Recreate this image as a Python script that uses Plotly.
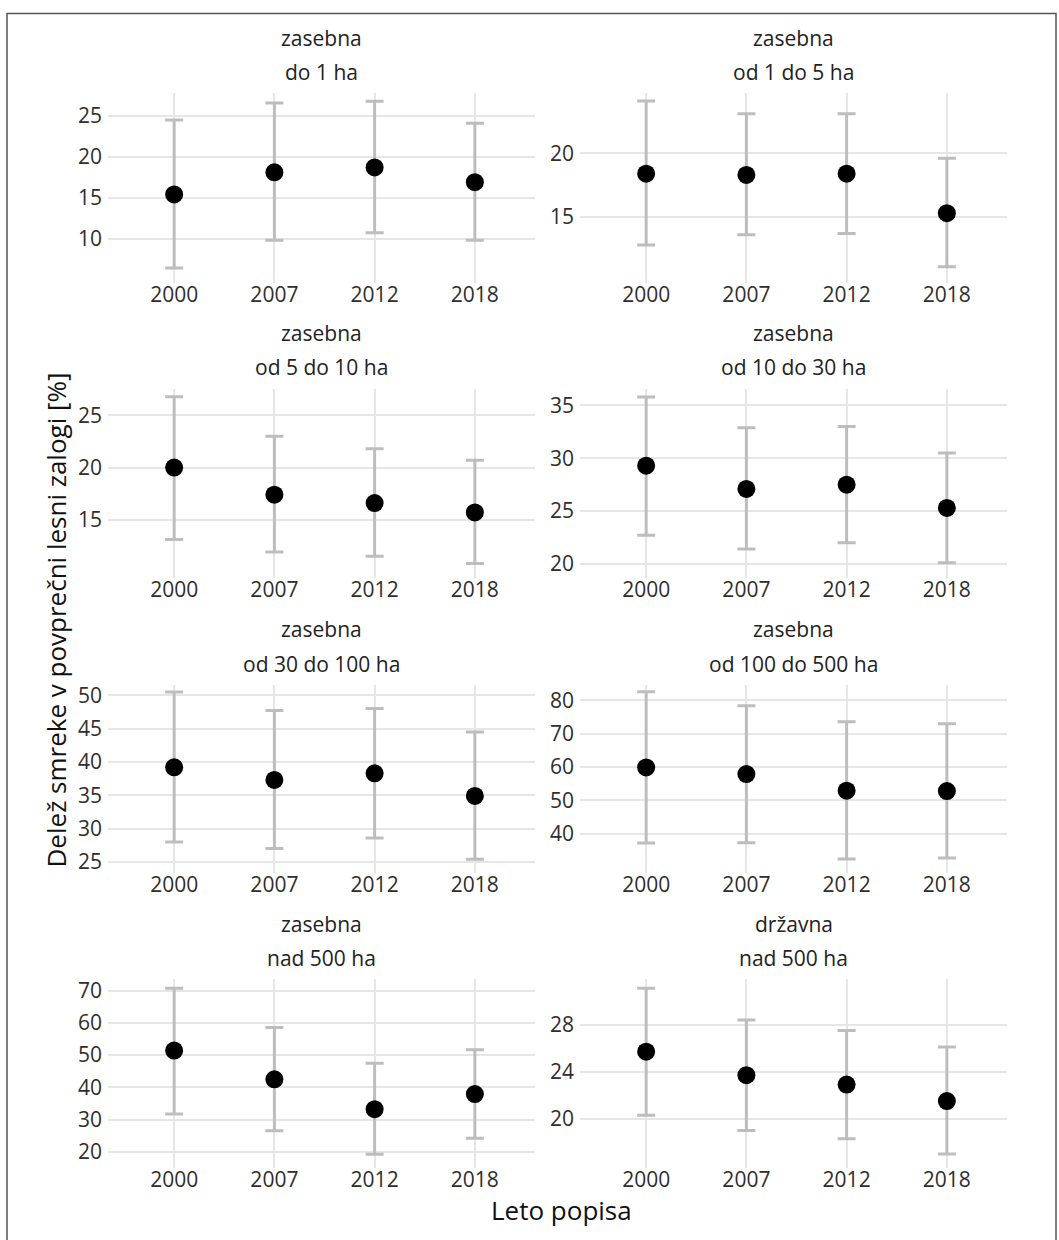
import plotly.graph_objects as go

# Census years (categorical x axis)
years = ["2000", "2007", "2012", "2018"]

# Panel strip labels: ownership / property size class
owners = ["zasebna", "zasebna", "zasebna", "zasebna",
          "zasebna", "zasebna", "zasebna", "državna"]
sizes = ["do 1 ha", "od 1 do 5 ha", "od 5 do 10 ha", "od 10 do 30 ha",
         "od 30 do 100 ha", "od 100 do 500 ha", "nad 500 ha", "nad 500 ha"]

# Spruce share in mean growing stock [%]: estimate, lower and upper bound
mean_do1 = [15.4, 18.1, 18.7, 16.9]
low_do1 = [6.4, 9.8, 10.7, 9.8]
up_do1 = [24.5, 26.6, 26.8, 24.1]

mean_1_5 = [18.4, 18.3, 18.4, 15.3]
low_1_5 = [12.8, 13.6, 13.7, 11.1]
up_1_5 = [24.1, 23.1, 23.1, 19.6]

mean_5_10 = [20.0, 17.4, 16.6, 15.7]
low_5_10 = [13.1, 11.9, 11.5, 10.8]
up_5_10 = [26.8, 23.0, 21.8, 20.7]

mean_10_30 = [29.3, 27.1, 27.5, 25.3]
low_10_30 = [22.7, 21.4, 22.0, 20.1]
up_10_30 = [35.8, 32.9, 33.0, 30.5]

mean_30_100 = [39.2, 37.3, 38.3, 34.9]
low_30_100 = [28.0, 27.0, 28.6, 25.4]
up_30_100 = [50.5, 47.7, 48.0, 44.5]

mean_100_500 = [59.9, 57.9, 52.9, 52.8]
low_100_500 = [37.2, 37.3, 32.4, 32.7]
up_100_500 = [82.6, 78.4, 73.6, 73.0]

mean_zas_500 = [51.4, 42.5, 33.2, 37.9]
low_zas_500 = [31.7, 26.5, 19.2, 24.2]
up_zas_500 = [70.8, 58.6, 47.5, 51.7]

mean_drz_500 = [25.7, 23.7, 22.9, 21.5]
low_drz_500 = [20.3, 19.0, 18.3, 17.0]
up_drz_500 = [31.1, 28.4, 27.5, 26.1]

# y-axis tick values per panel
ticks_do1 = [10, 15, 20, 25]
ticks_1_5 = [15, 20]
ticks_5_10 = [15, 20, 25]
ticks_10_30 = [20, 25, 30, 35]
ticks_30_100 = [25, 30, 35, 40, 45, 50]
ticks_100_500 = [40, 50, 60, 70, 80]
ticks_zas_500 = [20, 30, 40, 50, 60, 70]
ticks_drz_500 = [20, 24, 28]

means = [mean_do1, mean_1_5, mean_5_10, mean_10_30,
         mean_30_100, mean_100_500, mean_zas_500, mean_drz_500]
lows = [low_do1, low_1_5, low_5_10, low_10_30,
        low_30_100, low_100_500, low_zas_500, low_drz_500]
ups = [up_do1, up_1_5, up_5_10, up_10_30,
       up_30_100, up_100_500, up_zas_500, up_drz_500]
ticks = [ticks_do1, ticks_1_5, ticks_5_10, ticks_10_30,
         ticks_30_100, ticks_100_500, ticks_zas_500, ticks_drz_500]

# y ranges of each facet (free scales)
y_ranges = [[4.57, 27.75], [9.83, 24.69], [9.43, 27.56], [18.68, 36.58],
            [23.39, 51.52], [28.3, 84.6], [15.0, 73.5], [15.82, 31.85]]

W, H = 1059, 1240
FONT = "Open Sans"
TICK_COLOR = "#2e2e2e"

# panel boxes in pixels
col_px = [(108, 535), (580, 1007)]
row_px = [(90, 280.5), (387, 577), (685, 873.6), (981, 1170.4)]


def px_x(v):
    return v / W


def px_y(v):
    return 1 - v / H


fig = go.Figure()
layout = dict(
    width=W, height=H,
    margin=dict(l=0, r=0, t=0, b=0),
    paper_bgcolor="white", plot_bgcolor="white",
    showlegend=False,
    font=dict(family=FONT, color=TICK_COLOR),
)
annotations = []

for i in range(8):
    r, c = divmod(i, 2)
    n = i + 1
    xa = "x" if n == 1 else f"x{n}"
    ya = "y" if n == 1 else f"y{n}"
    err_plus = [u - m for u, m in zip(ups[i], means[i])]
    err_minus = [m - lo for m, lo in zip(means[i], lows[i])]
    fig.add_trace(go.Scatter(
        x=years, y=means[i], mode="markers",
        xaxis=xa, yaxis=ya,
        marker=dict(color="black", size=18),
        error_y=dict(type="data", symmetric=False,
                     array=err_plus, arrayminus=err_minus,
                     color="#bdbdbd", thickness=3, width=9),
    ))
    x0, x1 = col_px[c]
    y0, y1 = row_px[r]
    layout[f"xaxis{'' if n == 1 else n}"] = dict(
        domain=[px_x(x0), px_x(x1)], anchor=ya,
        type="category", categoryorder="array", categoryarray=years,
        range=[-0.66, 3.6], showgrid=True, gridcolor="#e6e6e6", gridwidth=2,
        zeroline=False, showline=False, ticks="",
        tickfont=dict(size=21, color=TICK_COLOR, family=FONT),
        ticklabelstandoff=-3,
    )
    layout[f"yaxis{'' if n == 1 else n}"] = dict(
        domain=[px_y(y1), px_y(y0)], anchor=xa,
        range=y_ranges[i], tickvals=ticks[i],
        showgrid=True, gridcolor="#e6e6e6", gridwidth=2,
        zeroline=False, showline=False, ticks="",
        tickfont=dict(size=21, color=TICK_COLOR, family=FONT),
        ticklabelstandoff=5,
    )
    cx = (x0 + x1) / 2
    annotations.append(dict(
        text=owners[i], x=px_x(cx), y=px_y(y0 - 56), xref="paper", yref="paper",
        xanchor="center", yanchor="middle", showarrow=False,
        font=dict(size=21, color="#222222", family=FONT),
    ))
    annotations.append(dict(
        text=sizes[i], x=px_x(cx), y=px_y(y0 - 21.5), xref="paper", yref="paper",
        xanchor="center", yanchor="middle", showarrow=False,
        font=dict(size=21, color="#222222", family=FONT),
    ))

# shared axis titles
annotations.append(dict(
    text="Leto popisa", x=px_x(561), y=px_y(1213), xref="paper", yref="paper",
    xanchor="center", yanchor="middle", showarrow=False,
    font=dict(size=26, color="#111111", family=FONT),
))
annotations.append(dict(
    text="Delež smreke v povprečni lesni zalogi [%]",
    x=px_x(55), y=px_y(620), xref="paper", yref="paper",
    xanchor="center", yanchor="middle", showarrow=False, textangle=-90,
    font=dict(size=26, color="#111111", family=FONT),
))

layout["annotations"] = annotations
# outer frame
layout["shapes"] = [dict(
    type="rect", xref="paper", yref="paper",
    x0=px_x(7), x1=px_x(1056), y0=px_y(1250), y1=px_y(9.5),
    line=dict(color="#555555", width=1.5), fillcolor="rgba(0,0,0,0)",
)]

fig.update_layout(**layout)
fig.write_html("out.html")
